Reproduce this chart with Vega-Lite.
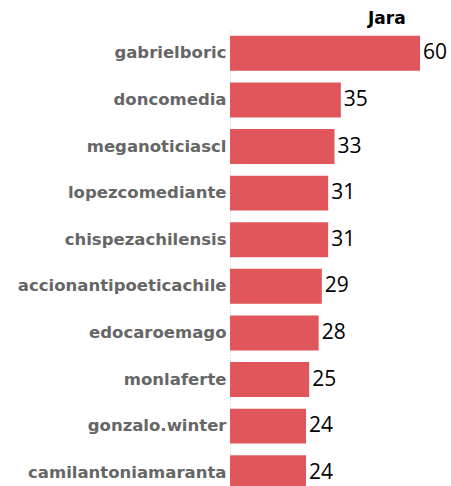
{
  "$schema": "https://vega.github.io/schema/vega-lite/v6.json",
  "autosize": {"type": "none"},
  "padding": {"left": 230, "top": 30, "right": 31, "bottom": 0},
  "width": 190,
  "height": 466,
  "background": "white",
  "title": {"text": "Jara", "anchor": "start", "frame": "group", "dx": 138, "offset": 2, "fontSize": 17, "font": "DejaVu Sans", "fontWeight": "bold", "color": "black"},
  "data": {"values": [
    {"user": "gabrielboric", "value": 60},
    {"user": "doncomedia", "value": 35},
    {"user": "meganoticiascl", "value": 33},
    {"user": "lopezcomediante", "value": 31},
    {"user": "chispezachilensis", "value": 31},
    {"user": "accionantipoeticachile", "value": 29},
    {"user": "edocaroemago", "value": 28},
    {"user": "monlaferte", "value": 25},
    {"user": "gonzalo.winter", "value": 24},
    {"user": "camilantoniamaranta", "value": 24}
  ]},
  "encoding": {
    "y": {"field": "user", "type": "nominal", "sort": null,
      "scale": {"paddingInner": 0.25, "paddingOuter": 0.125},
      "axis": {"title": null, "ticks": false, "labelPadding": 4, "labelLimit": 0, "labelFont": "DejaVu Sans", "labelFontSize": 16.5, "labelFontWeight": "bold", "labelColor": "#666666", "domainColor": "#cccccc", "domainDash": [1, 2], "domainWidth": 1}},
    "x": {"field": "value", "type": "quantitative", "scale": {"domain": [0, 60], "nice": false}, "axis": null}
  },
  "layer": [
    {"mark": {"type": "bar", "color": "#e0565a"}},
    {"mark": {"type": "text", "align": "left", "baseline": "middle", "dx": 3, "font": "Open Sans", "fontSize": 21, "color": "black"},
     "encoding": {"text": {"field": "value", "type": "quantitative"}}}
  ],
  "config": {"view": {"stroke": null}}
}
